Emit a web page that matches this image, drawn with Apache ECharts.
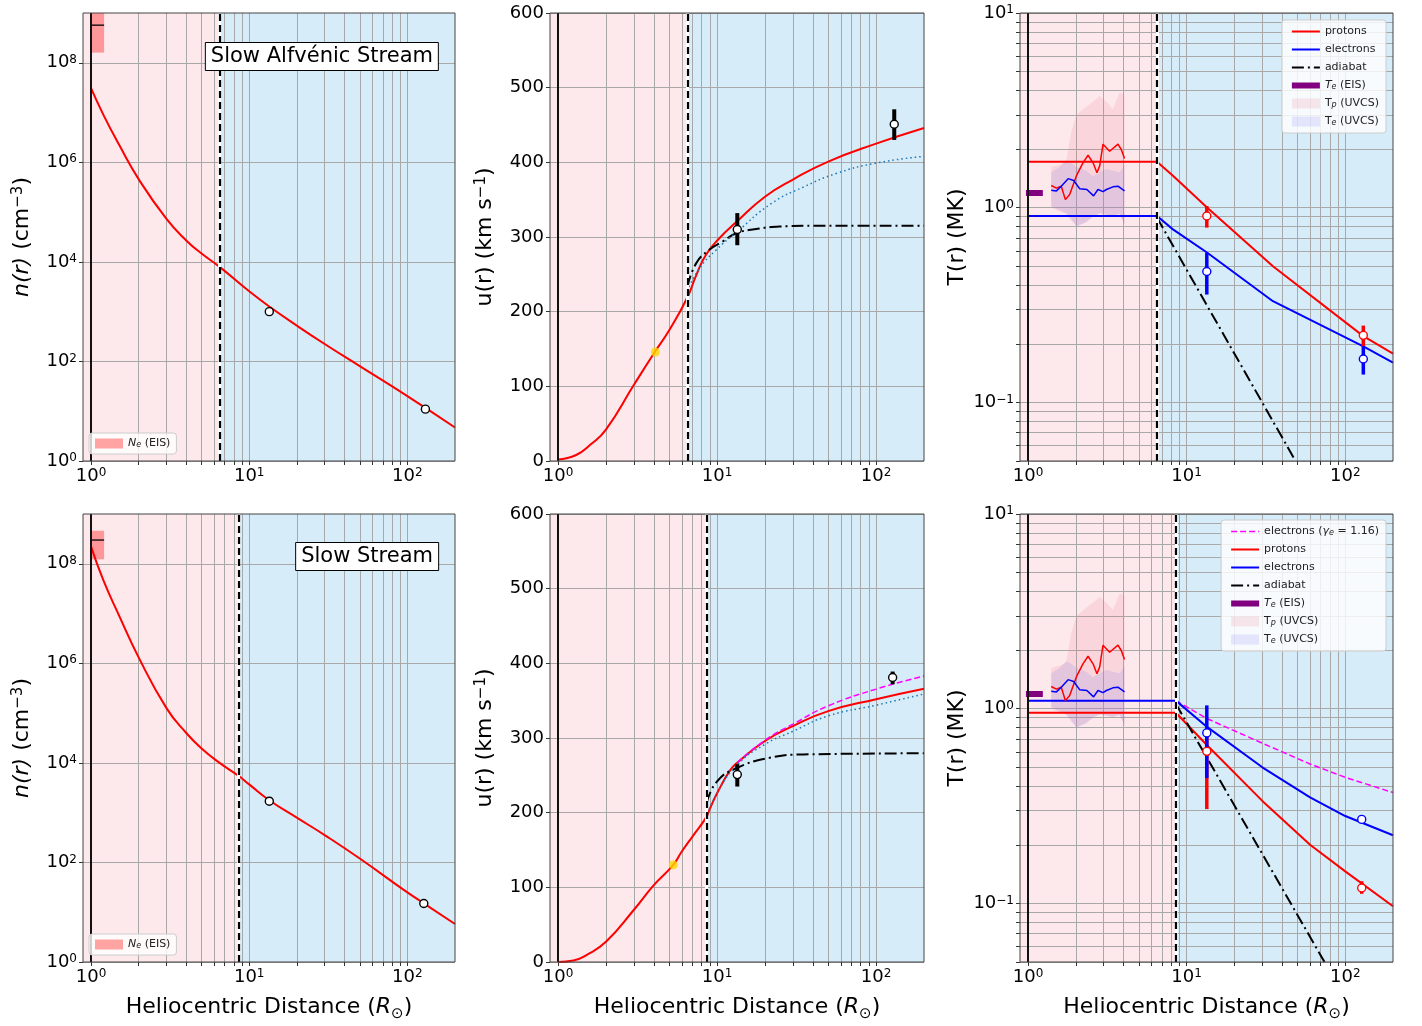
<!DOCTYPE html>
<html>
<head>
<meta charset="utf-8">
<title>Solar wind radial profiles</title>
<script src="https://cdn.jsdelivr.net/npm/echarts@6/dist/echarts.min.js"></script>
</head>
<body style="margin:0;background:#fff;">
<div id="main" style="width:1422px;height:1026px;"></div>
<script>
var FONT = 'DejaVu Sans';

// axis ranges and ticks
var rMin = 0.89, rMax = 200;
var rcAlf = 6.5, rcSlow = 8.55;          // critical points (dashed lines)
var xTickVals = [1, 2, 3, 4, 5, 6, 7, 8, 9, 10, 20, 30, 40, 50, 60, 70, 80, 90, 100];
var xLabelVals = [1, 10, 100];
var nLabelVals = [1, 1e2, 1e4, 1e6, 1e8];
var tTickVals = [0.05, 0.06, 0.07, 0.08, 0.09, 0.1, 0.2, 0.3, 0.4, 0.5, 0.6, 0.7, 0.8, 0.9,
                 1, 2, 3, 4, 5, 6, 7, 8, 9, 10];
var tLabelVals = [0.1, 1, 10];

// ---- density ----
var nAlfR = [1, 1.2, 1.5, 2, 3, 4, 5, 6.5, 10, 13.4, 20, 30, 50, 100, 200];
var nAlfN = [3.09e7, 8.9e6, 2.3e6, 4.6e5, 7.3e4, 2.7e4, 1.47e4, 7.94e3, 2.57e3, 1.27e3, 525, 224, 80.5, 20.1, 4.7];
var nAlfObsR = [13.4, 130];
var nAlfObs = [1000, 11];
var nSlowR = [1, 1.2, 1.5, 2, 3, 4, 5, 6.5, 8.55, 10, 13.4, 20, 30, 50, 100, 127, 200];
var nSlowN = [2.24e8, 4.57e7, 9.33e6, 1.32e6, 1.26e5, 3.98e4, 1.95e4, 1.0e4, 5.5e3, 3.7e3, 1.78e3, 794, 355, 120, 25, 15.1, 5.8];
var nSlowObsR = [13.4, 127];
var nSlowObs = [1700, 15];
// EIS density box: r0, r1, low, high, value
var neEisAlf = [1, 1.21, 1.6e8, 1e9, 5.7e8];
var neEisSlow = [1, 1.21, 1.23e8, 4.6e8, 3.0e8];

// ---- speed ----
var uAlfR = [1, 1.3, 1.6, 2, 3, 4, 5, 6.5, 7.4, 8.5, 10.3, 13.2, 20, 30, 50, 100, 200];
var uAlfU = [2, 8, 22, 42, 102, 144, 175, 219, 249, 276, 298, 320, 354, 377, 401, 425, 446];
var uAlfAdiR = [6.5, 7.4, 8.95, 10.85, 13.2, 18, 24.8, 40, 200];
var uAlfAdiU = [233, 265, 283, 294, 305, 311, 314, 315, 315];
var uAlfDotR = [6.5, 7.75, 9.9, 13.2, 22, 35, 56, 100, 200];
var uAlfDotU = [228, 258, 283, 306, 345, 367, 385, 399, 408];
var uAlfObsR = [13.4, 130];
var uAlfObs = [310, 451];
var uAlfObsLo = [289, 430];
var uAlfObsHi = [332, 471];
var uAlfSonic = [4.09, 146];

var uSlowR = [1, 1.25, 1.5, 2, 3, 4, 5.3, 6, 7, 8.5, 9, 10, 12, 13.4, 20, 30, 50, 100, 200];
var uSlowU = [0, 2, 9, 27, 70, 103, 130, 148, 168, 193, 205, 226, 256, 267, 296, 316, 336, 352, 366];
var uSlowMagR = [13.4, 20, 30, 50, 100, 200];
var uSlowMagU = [267, 297, 318.5, 343, 365.5, 383];
var uSlowDotR = [8.5, 10, 13.4, 20, 30, 50, 100, 200];
var uSlowDotU = [193, 226, 264, 291.5, 309, 329.6, 344, 359];
var uSlowAdiR = [8.6, 10, 13.4, 21.4, 34.8, 200];
var uSlowAdiU = [213, 242, 260, 273.5, 278, 279.5];
var uSlowObsR = [13.4, 127];
var uSlowObs = [251, 381];
var uSlowObsLo = [235, 372];
var uSlowObsHi = [265, 389];
var uSlowSonic = [5.3, 130];

// ---- temperature ----
var tAlfR = [1, 6.5, 8.2, 13.5, 35, 130, 200];
var tpAlfT = [1.72, 1.72, 1.46, 1.0, 0.5, 0.219, 0.178];
var teAlfT = [0.906, 0.906, 0.774, 0.587, 0.331, 0.194, 0.16];
var adiAlfR = [6.5, 48.6];
var adiAlfT = [0.89, 0.05];
var tObsAlfR = [13.4, 130];
var tpObsAlf = [0.906, 0.221];
var tpObsAlfLo = [0.79, 0.194];
var tpObsAlfHi = [1.02, 0.248];
var teObsAlf = [0.47, 0.167];
var teObsAlfLo = [0.358, 0.139];
var teObsAlfHi = [0.587, 0.194];

var tSlowR = [1, 8.55, 13.5, 30, 60, 100, 200];
var tpSlowT = [0.953, 0.953, 0.647, 0.336, 0.2, 0.146, 0.0966];
var teSlowT = [1.10, 1.10, 0.804, 0.5, 0.35, 0.281, 0.224];
var teGamR = [8.55, 13.5, 30, 60, 100, 200];
var teGamT = [1.10, 0.888, 0.665, 0.52, 0.444, 0.371];
var adiSlowR = [8.55, 74];
var adiSlowT = [1.06, 0.05];
var tObsSlowR = [13.4, 127];
var tpObsSlow = [0.604, 0.12];
var tpObsSlowLo = [0.305, 0.112];
var tpObsSlowHi = [0.72, 0.13];
var teObsSlow = [0.751, 0.27];
var teObsSlowLo = [0.44, 0.262];
var teObsSlowHi = [1.04, 0.278];

// UVCS / EIS temperatures near the Sun
var tpUvcsR = [1.40, 1.51, 1.62, 1.72, 1.83, 2.02, 2.22, 2.39, 2.57, 2.72, 2.83, 2.97, 3.27, 3.69, 3.87, 4.06];
var tpUvcsT = [1.30, 1.26, 1.29, 1.10, 1.17, 1.46, 1.70, 1.86, 1.70, 1.51, 1.64, 2.12, 1.95, 2.12, 1.99, 1.79];
var teUvcsR = [1.40, 1.51, 1.62, 1.79, 1.94, 2.12, 2.35, 2.59, 2.76, 2.97, 3.12, 3.43, 3.69, 4.06];
var teUvcsT = [1.23, 1.22, 1.29, 1.41, 1.38, 1.25, 1.24, 1.15, 1.24, 1.21, 1.24, 1.28, 1.29, 1.22];
var bandR = [1.40, 1.58, 1.74, 1.87, 2.02, 2.33, 2.57, 2.83, 3.12, 3.43, 3.78, 4.06];
var tpBandHi = [1.62, 1.66, 1.72, 2.43, 3.0, 3.3, 3.5, 3.75, 3.5, 3.2, 3.9, 3.8];
var tpBandLo = [1.0, 0.96, 0.93, 0.88, 0.80, 0.85, 0.90, 0.93, 0.92, 0.90, 0.93, 0.82];
var teBandHi = [1.52, 1.62, 1.76, 1.70, 1.62, 1.55, 1.45, 1.52, 1.58, 1.55, 1.52, 1.65];
var teBandLo = [1.02, 0.97, 0.94, 0.86, 0.80, 0.84, 0.90, 0.94, 0.92, 0.91, 0.93, 0.82];
var teEisR = [0.97, 1.24];
var teEisT = [1.19, 1.19];

var PINK = '#fde8ec', BLUE = '#d7ecf9';
var SMOOTH = 0.5;

function zip() {
    var cols = arguments;
    return cols[0].map(function (v, i) {
        var row = [];
        for (var k = 0; k < cols.length; k++) row.push(cols[k][i]);
        return row;
    });
}

function powLabel(v) {
    var e = Math.round(Math.log(v) / Math.LN10);
    return '10{s|' + String(e).replace('-', '\u2212') + '}';
}
var supRich = { s: { fontSize: 12, verticalAlign: 'top', fontFamily: FONT, color: '#000' } };

var grids = [
    { left: 83, top: 13, width: 372, height: 448 },
    { left: 550, top: 13, width: 374, height: 448 },
    { left: 1020, top: 13, width: 373, height: 448 },
    { left: 83, top: 514, width: 372, height: 448 },
    { left: 550, top: 514, width: 374, height: 448 },
    { left: 1020, top: 514, width: 373, height: 448 }
].map(function (g) {
    g.show = true; g.borderColor = '#444'; g.borderWidth = 1; g.z = 5; g.backgroundColor = 'transparent';
    return g;
});

function xAxisOpt(gi, withName) {
    return {
        type: 'log', gridIndex: gi, min: rMin, max: rMax, z: 1,
        axisLine: { show: false },
        axisTick: { customValues: xTickVals, length: 4, lineStyle: { color: '#333' } },
        axisLabel: { customValues: xLabelVals, formatter: powLabel, rich: supRich,
                     fontSize: 18, color: '#000', fontFamily: FONT, margin: 6 },
        splitLine: { show: true, lineStyle: { color: '#a8a8a8', width: 1 } },
        name: withName ? 'Heliocentric Distance ({it|R}{sb|\u2299})' : '',
        nameLocation: 'middle', nameGap: 30,
        nameTextStyle: { fontSize: 22, fontFamily: FONT, color: '#000',
            rich: { it: { fontSize: 22, fontStyle: 'italic', fontFamily: FONT },
                    sb: { fontSize: 15, fontFamily: FONT, verticalAlign: 'bottom', lineHeight: 30 } } }
    };
}

var nameStyle = { fontSize: 22, fontFamily: FONT, color: '#000',
    rich: { it: { fontSize: 22, fontStyle: 'italic', fontFamily: FONT },
            s: { fontSize: 15, fontFamily: FONT, verticalAlign: 'top' } } };

function nAxis(gi) {
    return {
        type: 'log', gridIndex: gi, min: 1, max: 1e9, z: 1,
        axisLine: { show: false },
        axisTick: { customValues: nLabelVals, length: 4, lineStyle: { color: '#333' } },
        axisLabel: { customValues: nLabelVals, formatter: powLabel, rich: supRich,
                     fontSize: 18, color: '#000', fontFamily: FONT, margin: 6 },
        splitLine: { show: true, lineStyle: { color: '#a8a8a8', width: 1 } },
        name: '{it|n(r)} (cm{s|\u22123})', nameLocation: 'middle', nameRotate: 90, nameGap: 50,
        nameTextStyle: nameStyle
    };
}
function uAxis(gi) {
    return {
        type: 'value', gridIndex: gi, min: 0, max: 600, interval: 100, z: 1,
        axisLine: { show: false },
        axisTick: { length: 4, lineStyle: { color: '#333' } },
        axisLabel: { fontSize: 18, color: '#000', fontFamily: FONT, margin: 6 },
        splitLine: { show: true, lineStyle: { color: '#a8a8a8', width: 1 } },
        name: 'u(r) (km s{s|\u22121})', nameLocation: 'middle', nameRotate: 90, nameGap: 54,
        nameTextStyle: nameStyle
    };
}
function tAxis(gi) {
    return {
        type: 'log', gridIndex: gi, min: 0.05, max: 10, z: 1,
        axisLine: { show: false },
        axisTick: { customValues: tTickVals, length: 4, lineStyle: { color: '#333' } },
        axisLabel: { customValues: tLabelVals, formatter: powLabel, rich: supRich,
                     fontSize: 18, color: '#000', fontFamily: FONT, margin: 6 },
        splitLine: { show: true, lineStyle: { color: '#a8a8a8', width: 1 } },
        name: 'T(r) (MK)', nameLocation: 'middle', nameRotate: 90, nameGap: 52,
        nameTextStyle: nameStyle
    };
}

function bgArea(rc) {
    return {
        silent: true, z: 0,
        data: [
            [{ xAxis: rMin, itemStyle: { color: PINK } }, { xAxis: rc }],
            [{ xAxis: rc, itemStyle: { color: BLUE } }, { xAxis: rMax }]
        ]
    };
}
function vLines(rc) {
    return {
        silent: true, symbol: ['none', 'none'], label: { show: false }, z: 4,
        data: [
            { xAxis: 1, lineStyle: { color: '#111', width: 2, type: 'solid' } },
            { xAxis: rc, lineStyle: { color: '#fff', width: 3, type: 'solid' } },
            { xAxis: rc, lineStyle: { color: '#000', width: 2.2, type: [7, 4] } }
        ]
    };
}

function curve(name, gi, xs, ys, color, width, type, extra) {
    var s = {
        name: name, type: 'line', xAxisIndex: gi, yAxisIndex: gi,
        data: zip(xs, ys), symbol: 'none', z: 2,
        lineStyle: { color: color, width: width, type: type || 'solid' },
        itemStyle: { color: color }
    };
    for (var k in extra) s[k] = extra[k];
    return s;
}

function errSeries(gi, xs, lo, hi, color, w) {
    return {
        type: 'custom', xAxisIndex: gi, yAxisIndex: gi, z: 3, silent: true,
        data: zip(xs, lo, hi), encode: { x: 0, y: [1, 2] },
        renderItem: function (params, api) {
            var a = api.coord([api.value(0), api.value(1)]);
            var b = api.coord([api.value(0), api.value(2)]);
            return { type: 'line', shape: { x1: a[0], y1: a[1], x2: b[0], y2: b[1] },
                     style: { stroke: color, lineWidth: w } };
        }
    };
}
function obsSeries(gi, xs, ys, edge) {
    return {
        type: 'scatter', xAxisIndex: gi, yAxisIndex: gi, z: 4, silent: true,
        data: zip(xs, ys), symbol: 'circle', symbolSize: 8,
        itemStyle: { color: '#fff', borderColor: edge, borderWidth: 1.4, opacity: 1 }
    };
}
function bandSeries(name, gi, xs, lo, hi, color) {
    return {
        name: name, type: 'custom', xAxisIndex: gi, yAxisIndex: gi, z: 2, silent: true,
        itemStyle: { color: color },
        data: zip(xs, lo, hi), encode: { x: 0, y: [1, 2] },
        renderItem: function (params, api) {
            if (params.dataIndex !== 0) return null;
            var pts = [], i;
            for (i = 0; i < xs.length; i++) pts.push(api.coord([xs[i], hi[i]]));
            for (i = xs.length - 1; i >= 0; i--) pts.push(api.coord([xs[i], lo[i]]));
            return { type: 'polygon', shape: { points: pts }, style: { fill: color } };
        }
    };
}
function eisBox(gi, box) {
    return {
        name: 'Ne (EIS)', type: 'custom', xAxisIndex: gi, yAxisIndex: gi, z: 3, silent: true,
        itemStyle: { color: 'rgba(255,0,0,0.35)' },
        data: [box], encode: { x: [0, 1], y: [2, 3] },
        renderItem: function (params, api) {
            var p0 = api.coord([api.value(0), api.value(3)]);
            var p1 = api.coord([api.value(1), api.value(2)]);
            var m0 = api.coord([api.value(0), api.value(4)]);
            var m1 = api.coord([api.value(1), api.value(4)]);
            return { type: 'group', children: [
                { type: 'rect', shape: { x: p0[0], y: p0[1], width: p1[0] - p0[0], height: p1[1] - p0[1] },
                  style: { fill: 'rgba(255,0,0,0.35)' } },
                { type: 'line', shape: { x1: m0[0], y1: m0[1], x2: m1[0], y2: m1[1] },
                  style: { stroke: '#000', lineWidth: 1.3 } }
            ] };
        }
    };
}

var DASHDOT = [12, 4, 2, 4];
var smoothOpt = { smooth: SMOOTH };
function withBg(rc, extra) {
    var o = { markArea: bgArea(rc), markLine: vLines(rc) };
    for (var k in extra) o[k] = extra[k];
    return o;
}
var series = [];

// panel 0: density, Alfvenic
series.push(curve('n alf', 0, nAlfR, nAlfN, 'red', 2, 'solid', withBg(rcAlf, smoothOpt)));
series.push(eisBox(0, neEisAlf));
series.push(obsSeries(0, nAlfObsR, nAlfObs, '#000'));

// panel 1: speed, Alfvenic
series.push(curve('u alf', 1, uAlfR, uAlfU, 'red', 2, 'solid', withBg(rcAlf, smoothOpt)));
series.push(curve('u alf iso', 1, uAlfAdiR, uAlfAdiU, '#000', 2, DASHDOT, smoothOpt));
series.push(curve('u alf dot', 1, uAlfDotR, uAlfDotU, '#1f77b4', 1.5, [1.5, 3], smoothOpt));
series.push(errSeries(1, uAlfObsR, uAlfObsLo, uAlfObsHi, '#000', 4));
series.push(obsSeries(1, uAlfObsR, uAlfObs, '#000'));
series.push({ type: 'scatter', xAxisIndex: 1, yAxisIndex: 1, z: 4, silent: true,
    data: [uAlfSonic], symbolSize: 9, itemStyle: { color: '#ffd700' } });

// panel 2: temperature, Alfvenic
series.push(curve('protons', 2, tAlfR, tpAlfT, 'red', 2, 'solid', withBg(rcAlf, {})));
series.push(curve('electrons', 2, tAlfR, teAlfT, 'blue', 2));
series.push(curve('adiabat', 2, adiAlfR, adiAlfT, '#000', 2, DASHDOT));
series.push(curve('Te (EIS)', 2, teEisR, teEisT, '#800080', 6));
series.push(bandSeries('Tp (UVCS)', 2, bandR, tpBandLo, tpBandHi, 'rgba(240,120,135,0.17)'));
series.push(bandSeries('Te (UVCS)', 2, bandR, teBandLo, teBandHi, 'rgba(120,120,240,0.16)'));
series.push(curve('tp uvcs', 2, tpUvcsR, tpUvcsT, 'red', 1.5));
series.push(curve('te uvcs', 2, teUvcsR, teUvcsT, 'blue', 1.5));
series.push(errSeries(2, tObsAlfR, tpObsAlfLo, tpObsAlfHi, 'red', 3.5));
series.push(errSeries(2, tObsAlfR, teObsAlfLo, teObsAlfHi, 'blue', 3.5));
series.push(obsSeries(2, tObsAlfR, tpObsAlf, 'red'));
series.push(obsSeries(2, tObsAlfR, teObsAlf, 'blue'));

// panel 3: density, slow
series.push(curve('n slow', 3, nSlowR, nSlowN, 'red', 2, 'solid', withBg(rcSlow, smoothOpt)));
series.push(eisBox(3, neEisSlow));
series.push(obsSeries(3, nSlowObsR, nSlowObs, '#000'));

// panel 4: speed, slow
series.push(curve('u slow', 4, uSlowR, uSlowU, 'red', 2, 'solid', withBg(rcSlow, smoothOpt)));
series.push(curve('u slow mag', 4, uSlowMagR, uSlowMagU, '#ff00ff', 1.5, [6, 3], smoothOpt));
series.push(curve('u slow iso', 4, uSlowAdiR, uSlowAdiU, '#000', 2, DASHDOT, smoothOpt));
series.push(curve('u slow dot', 4, uSlowDotR, uSlowDotU, '#1f77b4', 1.5, [1.5, 3], smoothOpt));
series.push(errSeries(4, uSlowObsR, uSlowObsLo, uSlowObsHi, '#000', 4));
series.push(obsSeries(4, uSlowObsR, uSlowObs, '#000'));
series.push({ type: 'scatter', xAxisIndex: 4, yAxisIndex: 4, z: 4, silent: true,
    data: [uSlowSonic], symbolSize: 9, itemStyle: { color: '#ffd700' } });

// panel 5: temperature, slow
series.push(curve('electrons (ge)', 5, teGamR, teGamT, '#ff00ff', 1.5, [6, 3], withBg(rcSlow, {})));
series.push(curve('protons', 5, tSlowR, tpSlowT, 'red', 2));
series.push(curve('electrons', 5, tSlowR, teSlowT, 'blue', 2));
series.push(curve('adiabat', 5, adiSlowR, adiSlowT, '#000', 2, DASHDOT));
series.push(curve('Te (EIS)', 5, teEisR, teEisT, '#800080', 6));
series.push(bandSeries('Tp (UVCS)', 5, bandR, tpBandLo, tpBandHi, 'rgba(240,120,135,0.17)'));
series.push(bandSeries('Te (UVCS)', 5, bandR, teBandLo, teBandHi, 'rgba(120,120,240,0.16)'));
series.push(curve('tp uvcs', 5, tpUvcsR, tpUvcsT, 'red', 1.5));
series.push(curve('te uvcs', 5, teUvcsR, teUvcsT, 'blue', 1.5));
series.push(errSeries(5, tObsSlowR, tpObsSlowLo, tpObsSlowHi, 'red', 3.5));
series.push(errSeries(5, tObsSlowR, teObsSlowLo, teObsSlowHi, 'blue', 3.5));
series.push(obsSeries(5, tObsSlowR, tpObsSlow, 'red'));
series.push(obsSeries(5, tObsSlowR, teObsSlow, 'blue'));

var legendNames = {
    'Ne (EIS)': '{it|N}{sb|e} (EIS)',
    'Te (EIS)': '{it|T}{sb|e} (EIS)',
    'Tp (UVCS)': 'T{sb|p} (UVCS)',
    'Te (UVCS)': 'T{sb|e} (UVCS)',
    'electrons (ge)': 'electrons ({it|\u03b3}{sb|e} = 1.16)'
};
function legendBase(extra) {
    var l = {
        orient: 'vertical', itemWidth: 28, itemHeight: 10, itemGap: 7, padding: [6, 7],
        backgroundColor: 'rgba(255,255,255,0.8)', borderColor: '#cccccc', borderWidth: 1,
        borderRadius: 3, selectedMode: false, z: 10,
        lineStyle: { width: 'inherit' },
        formatter: function (name) { return legendNames[name] || name; },
        textStyle: { fontSize: 11, fontFamily: FONT, color: '#222',
            rich: { it: { fontSize: 11, fontStyle: 'italic', fontFamily: FONT, color: '#222' },
                    sb: { fontSize: 8, fontStyle: 'italic', fontFamily: FONT, color: '#222', verticalAlign: 'bottom' } } }
    };
    for (var k in extra) l[k] = extra[k];
    return l;
}
// line entries: hide the marker that the legend adds to line icons
function lineItem(name) { return { name: name, itemStyle: { opacity: 0 } }; }
var tLegend = [lineItem('protons'), lineItem('electrons'), lineItem('adiabat'), lineItem('Te (EIS)'),
    { name: 'Tp (UVCS)', icon: 'rect' }, { name: 'Te (UVCS)', icon: 'rect' }];

var panelTitleStyle = { fontSize: 21, fontWeight: 'normal', fontFamily: FONT, color: '#000' };

var option = {
    animation: false,
    backgroundColor: '#fff',
    textStyle: { fontFamily: FONT },
    title: [
        { text: 'Slow Alfv\u00e9nic Stream', right: 983, top: 42, padding: [4, 6],
          borderColor: '#000', borderWidth: 1, backgroundColor: '#fff', textStyle: panelTitleStyle, z: 8 },
        { text: 'Slow Stream', right: 983, top: 542, padding: [4, 6],
          borderColor: '#000', borderWidth: 1, backgroundColor: '#fff', textStyle: panelTitleStyle, z: 8 }
    ],
    legend: [
        legendBase({ data: [{ name: 'Ne (EIS)', icon: 'rect' }], left: 89, top: 433, itemGap: 2, padding: [5, 6] }),
        legendBase({ data: [{ name: 'Ne (EIS)', icon: 'rect' }], left: 89, top: 934, itemGap: 2, padding: [5, 6] }),
        legendBase({ data: tLegend, right: 36, top: 20 }),
        legendBase({ data: [lineItem('electrons (ge)')].concat(tLegend), right: 36, top: 520 })
    ],
    grid: grids,
    xAxis: [xAxisOpt(0, false), xAxisOpt(1, false), xAxisOpt(2, false),
            xAxisOpt(3, true), xAxisOpt(4, true), xAxisOpt(5, true)],
    yAxis: [nAxis(0), uAxis(1), tAxis(2), nAxis(3), uAxis(4), tAxis(5)],
    series: series
};

var myChart = echarts.init(document.getElementById('main'));
myChart.setOption(option);
</script>
</body>
</html>
